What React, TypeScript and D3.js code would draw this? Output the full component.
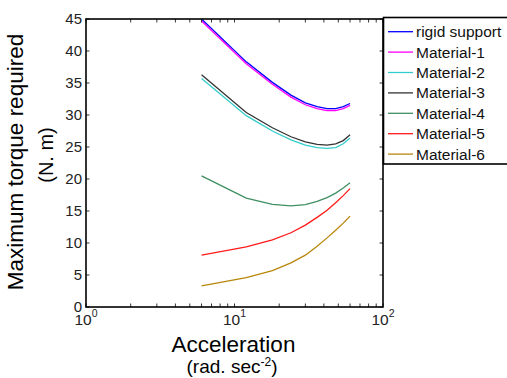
import React from "react";
import * as d3 from "d3";

// Angular acceleration (rad/s^2) at which the torque was evaluated
const acceleration = [6, 12, 18, 24, 30, 36, 42, 48, 54, 60];

// Maximum torque required (N.m) for each support configuration
const rigidSupport = [45.0, 38.3, 35.1, 33.1, 31.9, 31.3, 31.0, 31.0, 31.3, 31.8];
const material1 = [44.7, 38.0, 34.8, 32.8, 31.6, 31.0, 30.7, 30.7, 31.0, 31.5];
const material2 = [35.7, 29.9, 27.5, 26.1, 25.3, 24.9, 24.8, 24.9, 25.5, 26.4];
const material3 = [36.3, 30.4, 28.0, 26.6, 25.8, 25.4, 25.3, 25.5, 26.0, 26.9];
const material4 = [20.5, 17.0, 16.05, 15.8, 16.0, 16.5, 17.1, 17.8, 18.6, 19.4];
const material5 = [8.1, 9.4, 10.5, 11.6, 12.8, 14.0, 15.1, 16.3, 17.4, 18.5];
const material6 = [3.3, 4.6, 5.7, 6.9, 8.1, 9.5, 10.8, 12.0, 13.1, 14.2];

const seriesNames = [
  "rigid support",
  "Material-1",
  "Material-2",
  "Material-3",
  "Material-4",
  "Material-5",
  "Material-6",
];
const seriesValues = [rigidSupport, material1, material2, material3, material4, material5, material6];
const seriesColors = ["#0000ff", "#ff00ff", "#33cccc", "#333333", "#3f8f62", "#ff1a1a", "#b8860b"];

const yTicks = [0, 5, 10, 15, 20, 25, 30, 35, 40, 45];
const xDecades = [0, 1, 2];

const W = 507;
const H = 378;
const left = 86;
const right = 383;
const top = 19;
const bottom = 307;
const font = "'Liberation Sans', Arial, Helvetica, sans-serif";

export default function App() {
  const x = d3.scaleLog().domain([1, 100]).range([left, right]);
  const y = d3.scaleLinear().domain([0, 45]).range([bottom, top]);

  const line = d3
    .line<number>()
    .x((_, i) => x(acceleration[i]))
    .y((d) => y(d))
    .curve(d3.curveLinear);

  // minor + major log ticks
  const xTickVals: number[] = [];
  for (let dec = 1; dec < 100; dec *= 10) {
    for (let m = 1; m < 10; m++) xTickVals.push(dec * m);
  }
  xTickVals.push(100);

  const tickLen = 3.5;
  const legendX = 383.5;
  const legendY = 17.5;
  const legendH = 146.5;
  const rowH = 20.4;

  return (
    <svg
      width={W}
      height={H}
      style={{ position: "absolute", left: 0, top: 0, background: "#fff" }}
      fontFamily={font}
    >
      <defs>
        <clipPath id="plot-area">
          <rect x={left} y={top} width={right - left} height={bottom - top} />
        </clipPath>
      </defs>

      {/* curves */}
      <g clipPath="url(#plot-area)">
        {seriesValues.map((vals, i) => (
          <path
            key={seriesNames[i]}
            d={line(vals) || ""}
            fill="none"
            stroke={seriesColors[i]}
            strokeWidth={1.3}
          />
        ))}
      </g>

      {/* ticks (inward on all four sides) */}
      <g stroke="#000" strokeWidth={0.8}>
        {xTickVals.map((v) => (
          <g key={"xt" + v}>
            <line x1={x(v)} x2={x(v)} y1={bottom} y2={bottom - tickLen} />
            <line x1={x(v)} x2={x(v)} y1={top} y2={top + tickLen} />
          </g>
        ))}
        {yTicks.map((v) => (
          <g key={"yt" + v}>
            <line x1={left} x2={left + tickLen} y1={y(v)} y2={y(v)} />
            <line x1={right} x2={right - tickLen} y1={y(v)} y2={y(v)} />
          </g>
        ))}
      </g>

      {/* axes frame */}
      <rect
        x={left}
        y={top}
        width={right - left}
        height={bottom - top}
        fill="none"
        stroke="#000"
        strokeWidth={1.6}
      />

      {/* y tick labels */}
      {yTicks.map((v) => (
        <text
          key={"yl" + v}
          x={left - 4}
          y={y(v)}
          dy="0.36em"
          textAnchor="end"
          fontSize={15}
          fill="#222"
        >
          {v}
        </text>
      ))}

      {/* x tick labels */}
      {xDecades.map((p) => (
        <text
          key={"xl" + p}
          x={x(Math.pow(10, p))}
          y={325}
          textAnchor="middle"
          fontSize={15.5}
          fill="#222"
        >
          10
          <tspan dy={-8} fontSize={10.5}>
            {p}
          </tspan>
        </text>
      ))}

      {/* axis titles */}
      <text x={233.5} y={352} textAnchor="middle" fontSize={22.5} fill="#000">
        Acceleration
      </text>
      <text x={232} y={373} textAnchor="middle" fontSize={19} fill="#000">
        (rad. sec
        <tspan dy={-7} fontSize={12}>
          -2
        </tspan>
        <tspan dy={7}>)</tspan>
      </text>
      <text
        transform={`translate(23,162) rotate(-90)`}
        textAnchor="middle"
        fontSize={22.5}
        fill="#000"
      >
        Maximum torque required
      </text>
      <text
        transform={`translate(53,155) rotate(-90)`}
        textAnchor="middle"
        fontSize={20}
        fill="#000"
      >
        (N. m)
      </text>

      {/* legend */}
      <rect
        x={legendX}
        y={legendY}
        width={140}
        height={legendH}
        fill="#fff"
        stroke="#000"
        strokeWidth={1.6}
      />
      {seriesNames.map((name, i) => {
        const cy = 31.7 + i * rowH;
        return (
          <g key={"lg" + name}>
            <line x1={388} x2={413} y1={cy} y2={cy} stroke={seriesColors[i]} strokeWidth={1.3} />
            <text x={416} y={cy} dy="0.36em" fontSize={15.5} fill="#111">
              {name}
            </text>
          </g>
        );
      })}
    </svg>
  );
}
